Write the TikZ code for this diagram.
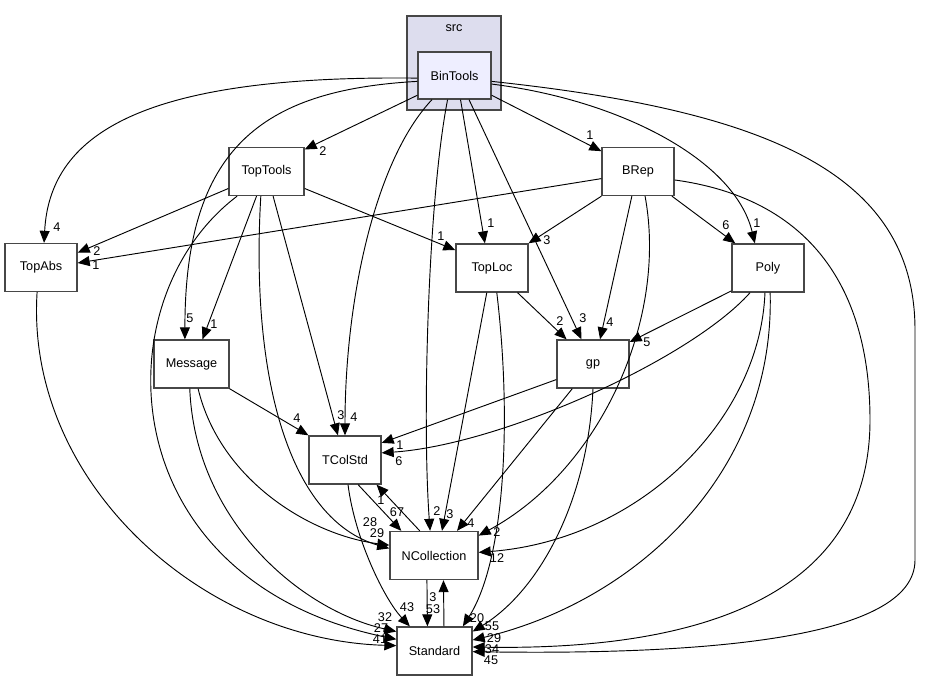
\documentclass[tikz,border=0pt]{standalone}
\usepackage{fontspec}
\setmainfont{Liberation Sans}
\usetikzlibrary{arrows.meta}
\definecolor{clusterfill}{HTML}{DDDDEE}
\definecolor{mainfill}{HTML}{EEEEFF}
\begin{document}
\begin{tikzpicture}[
  x=0.75pt, y=-0.75pt,
  box/.style={draw=black!72, line width=1pt, fill=white, minimum width=54pt, minimum height=36pt, inner sep=0pt, font=\fontsize{9.5}{11}\selectfont},
  arrow/.style={-{Triangle[length=9pt,width=7.5pt]}, line width=0.7pt},
  num/.style={inner sep=0pt, font=\fontsize{9.5}{11}\selectfont}
]
\useasboundingbox (0,0) rectangle (925,681);
\node[box, fill=clusterfill, minimum width=70.5pt, minimum height=70.5pt] (src) at (454,63) {};
\node[num] (srclabel) at (454,28) {src};
\node[box, fill=mainfill, minimum width=54.75pt, minimum height=35.25pt] (bintools) at (454.5,75.5) {BinTools};
\node[box, minimum width=56.25pt] (toptools) at (266.5,171.5) {TopTools};
\node[box] (brep) at (638,171.5) {BRep};
\node[box] (topabs) at (41,267.5) {TopAbs};
\node[box] (toploc) at (492,268) {TopLoc};
\node[box] (poly) at (768,268) {Poly};
\node[box, minimum width=56.25pt] (message) at (191.5,364) {Message};
\node[box] (gp) at (593,364) {gp};
\node[box] (tcolstd) at (345,460) {TColStd};
\node[box, minimum width=66pt] (ncoll) at (434,555.5) {NCollection};
\node[box, minimum width=56.25pt] (standard) at (434.5,651) {Standard};

\draw[arrow] (bintools.184) .. controls (150,75) and (50,130) .. (topabs.83) node[num] at (57,227) {4};
\draw[arrow] (bintools.189) .. controls (260,90) and (185,150) .. (message.105) node[num] at (190,318) {5};
\draw[arrow] (bintools.208) -- (toptools.30) node[num] at (323,151) {2};
\draw[arrow] (bintools.227) .. controls (375,160) and (345,300) .. (tcolstd.90) node[num] at (354,417) {4};
\draw[arrow] (bintools.254) .. controls (428,200) and (422,420) .. (ncoll.99) node[num] at (437,511) {2};
\draw[arrow] (bintools.284) -- (toploc.106) node[num] at (491,223) {1};
\draw[arrow] (bintools.301) -- (gp.115) node[num] at (583,318) {3};
\draw[arrow] (bintools.332) -- (brep.151) node[num] at (590,135) {1};
\draw[arrow] (bintools.347) .. controls (620,100) and (735,160) .. (poly.118) node[num] at (757,223) {1};
\draw[arrow] (bintools.351) .. controls (760,110) and (915,170) .. (915,330) -- (915,560) .. controls (915,640) and (700,655) .. (standard.359) node[num] at (491,660) {45};

\draw[arrow] (toptools.204) -- (topabs.22) node[num] at (97,251) {2};
\draw[arrow] (toptools.336) -- (toploc.154) node[num] at (441,236) {1};
\draw[arrow] (toptools.248) -- (message.66) node[num] at (214,324) {1};
\draw[arrow] (toptools.285) -- (tcolstd.106) node[num] at (341,415) {3};
\draw[arrow] (toptools.257) .. controls (250,380) and (290,520) .. (ncoll.171) node[num] at (377,533) {29};
\draw[arrow] (toptools.220) .. controls (100,300) and (110,580) .. (standard.163) node[num] at (381,628) {27};

\draw[arrow] (brep.191) -- (topabs.7) node[num] at (96,265) {1};
\draw[arrow] (brep.214) -- (toploc.34) node[num] at (547,240) {3};
\draw[arrow] (brep.256) -- (gp.74) node[num] at (610,322) {4};
\draw[arrow] (brep.324) -- (poly.143) node[num] at (726,225) {6};
\draw[arrow] (brep.286) .. controls (668,320) and (600,470) .. (ncoll.24) node[num] at (497,532) {2};
\draw[arrow] (brep.347) .. controls (820,200) and (870,300) .. (870,420) .. controls (870,620) and (650,650) .. (standard.6) node[num] at (492,649) {34};

\draw[arrow] (toploc.316) -- (gp.137) node[num] at (560,321) {2};
\draw[arrow] (toploc.258) -- (ncoll.72) node[num] at (450,514) {3};
\draw[arrow] (toploc.281) .. controls (512,420) and (505,560) .. (standard.41) node[num] at (477,618) {20};

\draw[arrow] (poly.212) -- (gp.31) node[num] at (647,342) {5};
\draw[arrow] (poly.234) .. controls (690,360) and (500,445) .. (tcolstd.11) node[num] at (399,461) {6};
\draw[arrow] (poly.263) .. controls (760,420) and (640,540) .. (ncoll.4) node[num] at (497,558) {12};
\draw[arrow] (poly.275) .. controls (775,470) and (640,600) .. (standard.16) node[num] at (494,638) {29};

\draw[arrow] (gp.203) -- (tcolstd.25) node[num] at (400,445) {1};
\draw[arrow] (gp.230) -- (ncoll.47) node[num] at (471,523) {4};
\draw[arrow] (gp.270) .. controls (588,500) and (540,590) .. (standard.27) node[num] at (492,626) {55};

\draw[arrow] (message.327) -- (tcolstd.146) node[num] at (297,418) {4};
\draw[arrow] (message.285) .. controls (220,480) and (310,535) .. (ncoll.167) node[num] at (370,522) {28};
\draw[arrow] (message.266) .. controls (195,520) and (300,610) .. (standard.153) node[num] at (385,617) {32};

\draw[arrow] (tcolstd.298) -- (ncoll.143) node[num] at (397,512) {67};
\draw[arrow] (ncoll.120) -- (tcolstd.322) node[num] at (381,500) {1};
\draw[arrow] (tcolstd.277) .. controls (355,540) and (385,600) .. (standard.135) node[num] at (407,607) {43};
\draw[arrow] (ncoll.254) -- (standard.106) node[num] at (433,609) {53};
\draw[arrow] (standard.69) -- (ncoll.291) node[num] at (433,597) {3};
\draw[arrow] (topabs.261) .. controls (25,480) and (200,640) .. (standard.172) node[num] at (380,639) {41};
\end{tikzpicture}
\end{document}
